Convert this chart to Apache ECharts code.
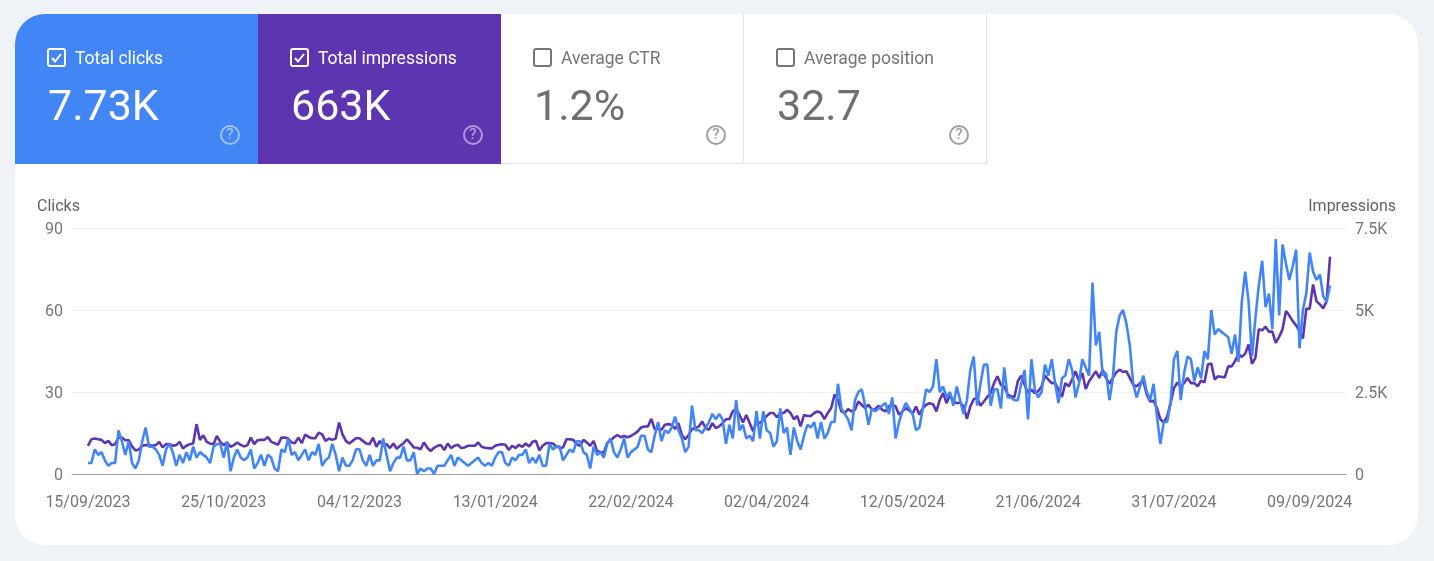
<!DOCTYPE html>
<html><head><meta charset="utf-8">
<style>html,body{margin:0;padding:0;background:#eff2f7}#c{width:1434px;height:561px}</style>
<script src="https://cdn.jsdelivr.net/npm/echarts@6/dist/echarts.min.js"></script>
</head><body><div id="c"></div>
<script>
const tickLabels = ['15/09/2023','25/10/2023','04/12/2023','13/01/2024','22/02/2024','02/04/2024','12/05/2024','21/06/2024','31/07/2024','09/09/2024'];
const tickDays = [0,40,80,120,160,200,240,280,320,360];
const clicks = [
4,4,9,7,8,5,3,4,4,16,
12,7,12,4,2,5,12,17,10,10,
9,7,3,9,11,8,3,7,4,8,
5,10,6,8,7,6,4,10,11,11,
6,12,1,6,9,6,5,6,9,2,
4,7,3,7,6,2,1,9,8,13,
7,8,5,7,9,5,8,7,11,3,
5,6,11,7,1,6,3,3,5,9,
9,5,3,7,3,5,5,13,7,1,
4,6,6,10,5,5,8,0,2,1,
2,2,0,3,3,3,5,7,3,6,
5,4,3,4,5,6,4,3,4,3,
6,8,8,4,3,6,5,7,7,9,
4,6,4,7,3,3,11,9,10,10,
5,7,9,8,12,12,8,7,2,10,
7,8,6,11,13,8,6,9,13,6,
8,9,10,14,14,9,8,14,19,12,
16,15,17,21,16,13,8,10,25,16,
16,15,17,19,22,20,22,20,11,18,
13,27,16,18,13,14,12,23,13,23,
16,15,10,12,24,15,17,7,17,12,
9,14,18,17,19,13,19,13,15,19,
19,33,24,22,20,16,27,30,31,25,
18,24,23,24,25,26,22,28,13,19,
23,26,24,22,16,17,24,31,30,32,
42,30,32,28,30,25,32,27,22,27,
38,43,25,33,40,40,25,31,31,24,
39,28,28,27,27,33,38,20,42,31,
28,30,40,36,42,33,26,35,36,42,
38,28,33,42,39,36,70,47,52,36,
37,27,35,52,58,60,55,47,33,28,
32,36,30,27,33,21,11,19,19,26,
42,45,27,37,43,42,34,39,35,45,
42,60,51,53,52,51,50,44,51,41,
63,74,63,43,57,69,78,61,66,53,
86,58,84,77,71,76,82,46,60,66,
81,74,71,73,65,63,69];
const impressions = [
860,1060,1080,1060,1040,940,1010,880,910,1110,
1110,1030,1030,840,720,750,860,880,880,860,
880,980,810,910,910,860,880,980,780,860,
910,930,1520,1040,1180,980,930,910,1160,980,
880,960,830,880,960,890,840,880,1110,910,
1030,1040,1040,1130,980,940,890,1110,1110,1080,
960,940,1110,940,1200,1130,1090,1090,1260,1210,
1010,1080,1040,1080,1570,1210,1010,930,1010,1090,
1090,1010,930,910,1110,830,1010,860,910,790,
930,770,860,940,1060,940,810,800,750,960,
800,700,800,860,880,730,930,790,860,890,
790,810,860,860,860,960,830,800,790,780,
860,890,910,890,730,860,790,890,830,930,
840,980,1010,720,860,940,940,930,840,800,
810,1060,1060,1040,910,860,1040,960,860,1010,
700,670,650,950,1020,1120,1190,1120,1160,1120,
1160,1220,1300,1420,1450,1450,1680,1370,1370,1350,
1500,1520,1500,1370,1550,1190,1060,1190,1370,1400,
1450,1600,1400,1350,1550,1400,1450,1550,1670,1670,
1910,1980,1800,1570,1800,1550,1300,1600,1550,1650,
1770,1860,1860,1730,1860,1860,1960,1860,1670,1770,
1450,1800,1770,1770,1860,1910,1860,1670,1860,2010,
2420,2260,1910,1860,1980,1910,1960,2210,2110,2010,
2110,1960,1980,2080,1960,1910,2060,2110,2060,1810,
1910,2010,1940,1840,2060,1810,2010,2110,2160,2130,
1910,2260,2470,2160,2420,2210,2160,2180,2060,1680,
2060,2280,2320,2080,2210,2350,2470,2770,2980,2720,
2670,2420,2370,2350,2830,3000,2720,2470,2570,2470,
2520,2670,3000,2880,2770,2770,2570,2350,2770,2670,
2880,3130,2830,3080,2590,2830,2980,3130,2930,3180,
2930,2750,2930,3100,3180,3110,3130,2930,2720,2670,
2770,2830,2420,2210,2230,2010,1670,1570,1750,2160,
2620,2790,2670,2770,2930,2770,2770,2670,2850,2790,
3340,3370,2880,2980,2960,2950,3280,3280,3440,3660,
3570,3670,3950,3360,3540,4410,4380,4490,4340,4340,
4000,4180,4410,4970,4830,4660,4530,4360,4130,5040,
5040,5780,5270,5170,5050,5270,6630];

const tiles = [
  {x:15,  fill:'#4285f4', label:'Total clicks',      value:'7.73K', on:true},
  {x:258, fill:'#5e35b1', label:'Total impressions', value:'663K',  on:true},
  {x:501, fill:'#ffffff', label:'Average CTR',       value:'1.2%',  on:false},
  {x:744, fill:'#ffffff', label:'Average position',  value:'32.7',  on:false}
];
const FONT = 'Roboto, sans-serif';
const GREY = '#757575';
const g = [];
g.push({type:'rect',shape:{x:15,y:14,width:1403,height:531,r:30},style:{fill:'#fff'},z:-10});
tiles.forEach((t,i)=>{
  const fg = t.on ? '#ffffff' : GREY;
  g.push({type:'rect',shape:{x:t.x,y:14,width:243,height:150,r:i===0?[30,0,0,0]:0},style:{fill:t.fill},z:-9});
  if(!t.on){
    g.push({type:'line',shape:{x1:t.x+242.5,y1:14,x2:t.x+242.5,y2:164},style:{stroke:'#dddfe2',lineWidth:1},z:-8});
    g.push({type:'line',shape:{x1:t.x,y1:163.5,x2:t.x+243,y2:163.5},style:{stroke:'#dddfe2',lineWidth:1},z:-8});
  }
  g.push({type:'rect',shape:{x:t.x+33,y:49,width:17,height:17,r:2},style:{fill:'none',stroke:fg,lineWidth:2},z:-7});
  if(t.on) g.push({type:'polyline',shape:{points:[[t.x+37,58],[t.x+40,61.5],[t.x+46,54]]},style:{fill:'none',stroke:fg,lineWidth:2},z:-7});
  g.push({type:'text',x:t.x+60,y:60,style:{text:t.label,fill:fg,font:'400 17.5px '+FONT,textAlign:'left',textVerticalAlign:'middle'},z:-7});
  g.push({type:'text',x:t.x+33,y:109,style:{text:t.value,fill:t.on?'#fff':'#6f6f6f',font:'400 43px '+FONT,textAlign:'left',textVerticalAlign:'middle'},z:-7});
  const ic = t.on ? 'rgba(255,255,255,0.5)' : '#9e9e9e';
  g.push({type:'circle',shape:{cx:t.x+215,cy:135,r:9},style:{fill:'none',stroke:ic,lineWidth:2},z:-7});
  g.push({type:'text',x:t.x+215,y:135.5,style:{text:'?',fill:ic,font:'500 15px '+FONT,textAlign:'center',textVerticalAlign:'middle'},z:-7});
});
g.push({type:'text',x:37,y:207,style:{text:'Clicks',fill:'#5f6368',font:'400 16px '+FONT,textAlign:'left',textVerticalAlign:'middle'}});
g.push({type:'text',x:1396,y:207,style:{text:'Impressions',fill:'#5f6368',font:'400 16px '+FONT,textAlign:'right',textVerticalAlign:'middle'}});

const tickRich = {a:{fontSize:16,color:GREY,fontFamily:FONT,padding:[4,0,0,0]}};
const chart = echarts.init(document.getElementById('c'));
chart.setOption({
  animation:false,
  backgroundColor:'#eff2f7',
  textStyle:{fontFamily:FONT},
  graphic:{elements:g},
  grid:{left:72,right:88,top:228,bottom:87,containLabel:false},
  xAxis:{type:'value',min:-4.7,max:370.7,
    axisLine:{show:true,onZero:false,lineStyle:{color:'#9e9e9e',width:1}},
    axisTick:{show:false},splitLine:{show:false},
    axisLabel:{customValues:tickDays,margin:21,fontSize:16,color:GREY,fontFamily:FONT,hideOverlap:false,
      formatter:v=>tickLabels[tickDays.indexOf(v)]}},
  yAxis:[
    {type:'value',min:0,max:90,interval:30,position:'left',
      axisLine:{show:false},axisTick:{show:false},
      splitLine:{lineStyle:{color:'#f0f0f0',width:1}},
      axisLabel:{margin:9,rich:tickRich,formatter:v=>'{a|'+v+'}'}},
    {type:'value',min:0,max:7500,interval:2500,position:'right',
      axisLine:{show:false},axisTick:{show:false},splitLine:{show:false},
      axisLabel:{margin:9,rich:tickRich,
        formatter:v=>'{a|'+(v===0?'0':(v/1000)+'K')+'}'}}
  ],
  series:[
    {name:'Impressions',type:'line',yAxisIndex:1,symbol:'none',z:2,
      data:impressions.map((v,i)=>[i,v]),lineStyle:{color:'#5e35b1',width:2.6}},
    {name:'Clicks',type:'line',yAxisIndex:0,symbol:'none',z:3,
      data:clicks.map((v,i)=>[i,v]),lineStyle:{color:'#4285f4',width:2.6}}
  ]
});
</script></body></html>
